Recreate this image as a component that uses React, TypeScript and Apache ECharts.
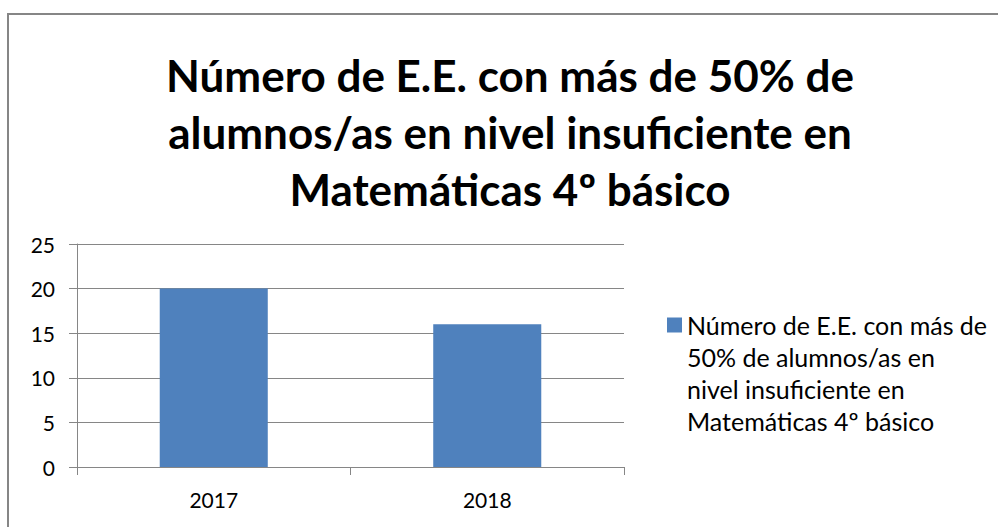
import React, { useEffect, useRef } from "react";
import * as echarts from "echarts";

const titleLines = [
  "Número de E.E. con más de 50% de",
  "alumnos/as en nivel insuficiente en",
  "Matemáticas 4º básico",
];
const seriesName = titleLines.join(" ");
const legendLines = [
  "Número de E.E. con más de",
  "50% de alumnos/as en",
  "nivel insuficiente en",
  "Matemáticas 4º básico",
];
const categories = ["2017", "2018"];
const values = [20, 16];
const yMin = 0;
const yMax = 25;
const yInterval = 5;

export default function App() {
  const ref = useRef<HTMLDivElement>(null);
  useEffect(() => {
    if (!ref.current) return;
    const chart = echarts.init(ref.current, undefined, { renderer: "svg" });
    const font = "Lato, 'Open Sans', sans-serif";
    chart.setOption({
      animation: false,
      backgroundColor: "#ffffff",
      title: {
        text: titleLines.join("\n"),
        left: 505,
        top: 41,
        textAlign: "center",
        textStyle: {
          fontFamily: font,
          fontWeight: "bold",
          fontSize: 44,
          lineHeight: 57,
          color: "#000000",
        },
      },
      graphic: [
        {
          type: "rect",
          shape: { x: 8, y: 14, width: 1100, height: 600 },
          style: { fill: "none", stroke: "#868686", lineWidth: 2 },
          silent: true,
          z: -1,
        },
      ],
      legend: {
        left: 662,
        top: 208,
        orient: "vertical",
        icon: "rect",
        itemWidth: 15,
        itemHeight: 15,
        itemGap: 0,
        textGap: 7,
        selectedMode: false,
        formatter: () => ["", "", ""].concat(legendLines).join("\n"),
        textStyle: {
          fontFamily: font,
          fontSize: 25,
          lineHeight: 32,
          color: "#000000",
        },
        data: [seriesName],
      },
      grid: {
        left: 77,
        right: 374,
        top: 244,
        bottom: 60,
        containLabel: false,
      },
      xAxis: {
        type: "category",
        data: categories,
        axisLine: { show: true, lineStyle: { color: "#868686", width: 1 } },
        axisTick: { show: true, length: 8, interval: 0, alignWithLabel: false, lineStyle: { color: "#868686" } },
        axisLabel: { color: "#000000", fontFamily: font, fontSize: 21, margin: 22 },
        splitLine: { show: false },
      },
      yAxis: {
        type: "value",
        min: yMin,
        max: yMax,
        interval: yInterval,
        axisLine: { show: true, lineStyle: { color: "#868686", width: 1 } },
        axisTick: { show: true, length: 8, lineStyle: { color: "#868686" } },
        axisLabel: { color: "#000000", fontFamily: font, fontSize: 21, margin: 22 },
        splitLine: { show: true, lineStyle: { color: "#868686", width: 1 } },
      },
      series: [
        {
          name: seriesName,
          type: "bar",
          data: values,
          barWidth: "39.5%",
          itemStyle: { color: "#4F81BD" },
        },
      ],
    });
    return () => chart.dispose();
  }, []);
  return (
    <div
      ref={ref}
      style={{ position: "fixed", left: 0, top: 0, width: 998, height: 527 }}
    />
  );
}
